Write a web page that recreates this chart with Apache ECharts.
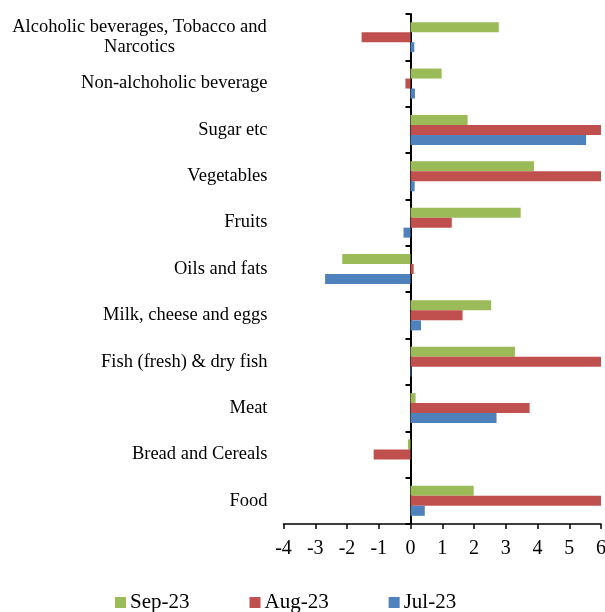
<!DOCTYPE html>
<html>
<head>
<meta charset="utf-8">
<script src="https://cdn.jsdelivr.net/npm/echarts@6/dist/echarts.min.js"></script>
<style>
  html, body { margin: 0; padding: 0; background: #fff; }
  #chart { width: 605px; height: 612px; }
</style>
</head>
<body>
<div id="chart"></div>
<script>
// categories from bottom to top
var categories = [
    'Food',
    'Bread and Cereals',
    'Meat',
    'Fish (fresh) & dry fish',
    'Milk, cheese and eggs',
    'Oils and fats',
    'Fruits',
    'Vegetables',
    'Sugar etc',
    'Non-alchoholic beverage',
    'Alcoholic beverages, Tobacco and Narcotics'
];
var sep23 = [1.99, -0.08, 0.16, 3.29, 2.54, -2.15, 3.47, 3.89, 1.8, 0.98, 2.78];
// values past 6 are cut off in the original, these are guesses
var aug23 = [8.5, -1.16, 3.75, 9.0, 1.64, 0.1, 1.3, 7.8, 7.2, -0.16, -1.54];
var jul23 = [0.45, 0, 2.71, 0.03, 0.33, -2.69, -0.22, 0.13, 5.53, 0.14, 0.12];
var xTicks = [-4, -3, -2, -1, 0, 1, 2, 3, 4, 5, 6];

var font = 'Liberation Serif, Times New Roman, serif';
var myChart = echarts.init(document.getElementById('chart'));

var option = {
    animation: false,
    backgroundColor: '#fff',
    grid: { left: 283.5, right: 4, top: 14, bottom: 88, outerBoundsMode: 'none', containLabel: false },
    legend: {
        data: ['Sep-23', 'Aug-23', 'Jul-23'],
        left: 115,
        top: 592,
        padding: 0,
        itemWidth: 11,
        itemHeight: 11,
        itemGap: 60,
        icon: 'rect',
        textStyle: { fontFamily: font, fontSize: 21, color: '#000', padding: [0, 0, 0, -1] }
    },
    xAxis: {
        type: 'value',
        min: xTicks[0],
        max: xTicks[xTicks.length - 1],
        interval: 1,
        splitLine: { show: false },
        axisLine: { show: true, onZero: false, lineStyle: { color: '#000', width: 1.5 } },
        axisTick: { show: true, length: 5, lineStyle: { color: '#000', width: 1.5 } },
        axisLabel: { fontFamily: font, fontSize: 20, color: '#000', margin: 15 }
    },
    yAxis: [
        {
            type: 'category',
            data: categories,
            position: 'left',
            axisLine: { show: false, onZero: false },
            axisTick: { show: false },
            axisLabel: {
                margin: 16,
                fontFamily: font,
                fontSize: 18.5,
                color: '#000',
                formatter: function (v) {
                    if (v.indexOf('Tobacco') >= 0) {
                        return '{a|Alcoholic beverages, Tobacco and}\n{a|Narcotics}';
                    }
                    return v;
                },
                rich: {
                    a: { width: 256, align: 'center', fontFamily: font, fontSize: 18.5, color: '#000', lineHeight: 20 }
                }
            }
        },
        {
            type: 'category',
            data: categories,
            position: 'left',
            axisLine: { show: true, onZero: true, lineStyle: { color: '#000', width: 2 } },
            axisTick: { show: true, length: 5, lineStyle: { color: '#000', width: 2 } },
            axisLabel: { show: false }
        }
    ],
    series: [
        { name: 'Sep-23', type: 'bar', data: sep23, barWidth: 10, barGap: '0%', itemStyle: { color: '#9BBB59' } },
        { name: 'Aug-23', type: 'bar', data: aug23, barWidth: 10, barGap: '0%', itemStyle: { color: '#C0504D' } },
        { name: 'Jul-23', type: 'bar', data: jul23, barWidth: 10, barGap: '0%', itemStyle: { color: '#4F81BD' } }
    ]
};
myChart.setOption(option);
</script>
</body>
</html>
